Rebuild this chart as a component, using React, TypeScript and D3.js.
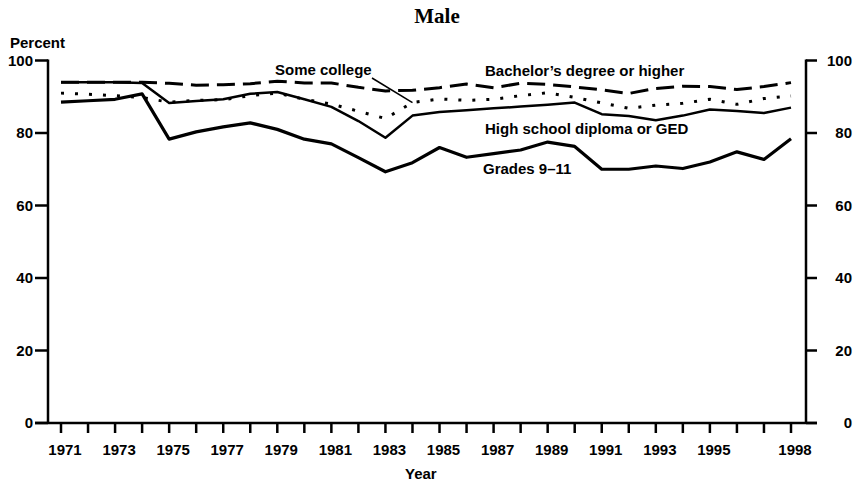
import React, { useRef, useEffect } from 'react';
import * as d3 from 'd3';

const years = d3.range(1971, 1999);
const yTicks = [0, 20, 40, 60, 80, 100];
const xLabelYears = [1971, 1973, 1975, 1977, 1979, 1981, 1983, 1985, 1987, 1989, 1991, 1993, 1995, 1998];

const bachelors = [94, 94, 94, 94, 93.7, 93.2, 93.3, 93.6, 94.3, 93.8, 93.8, 92.6, 91.6, 91.8, 92.5, 93.5, 92.5, 93.7, 93.4, 92.7, 91.9, 90.9, 92.3, 92.9, 92.8, 92, 92.8, 93.9];
const someCollege = [91, 90.7, 90.3, 89.8, 88.5, 89, 89.2, 90.3, 91, 89.3, 88, 86, 84, 88.4, 89.4, 89, 89.3, 90.3, 91.1, 89.8, 88.3, 86.8, 87.7, 88.2, 89.3, 87.9, 89.5, 90.2];
const highSchool = [94, 94, 94, 93.8, 88.3, 88.8, 89.3, 90.8, 91.3, 89.3, 87.2, 83.3, 78.7, 84.8, 85.8, 86.3, 86.8, 87.3, 87.8, 88.4, 85.2, 84.7, 83.5, 84.8, 86.5, 86.1, 85.5, 87];
const grades = [88.5, 88.9, 89.3, 90.8, 78.3, 80.3, 81.7, 82.8, 81, 78.3, 77, 73.2, 69.3, 71.8, 76, 73.3, 74.3, 75.3, 77.5, 76.3, 70, 70, 70.9, 70.2, 72, 74.8, 72.7, 78.4];

const W = 857;
const H = 482;
const FONT = '"Liberation Sans", Arial, Helvetica, sans-serif';

const MaleChart: React.FC = () => {
  const ref = useRef<SVGSVGElement | null>(null);

  useEffect(() => {
    if (!ref.current) return;
    const svg = d3.select(ref.current);
    svg.selectAll('*').remove();

    const x = d3.scaleLinear().domain([1971, 1998]).range([61, 791]);
    const y = d3.scaleLinear().domain([0, 100]).range([423, 60.5]);
    const left = 48;
    const right = 806;

    svg.append('rect').attr('width', W).attr('height', H).attr('fill', '#fff');

    // title
    svg.append('text')
      .attr('x', 437).attr('y', 23)
      .attr('text-anchor', 'middle')
      .attr('font-family', '"Liberation Serif", "Times New Roman", serif')
      .attr('font-weight', 'bold')
      .attr('font-size', 21)
      .text('Male');

    svg.append('text')
      .attr('x', 10).attr('y', 48)
      .attr('font-family', FONT).attr('font-weight', 'bold').attr('font-size', 15)
      .text('Percent');

    // axes frame
    const axisG = svg.append('g').attr('stroke', '#000').attr('stroke-width', 2.5).attr('fill', 'none');
    axisG.append('line').attr('x1', left).attr('x2', left).attr('y1', y(100) - 1).attr('y2', y(0));
    axisG.append('line').attr('x1', right).attr('x2', right).attr('y1', y(100) - 1).attr('y2', y(0));
    axisG.append('line').attr('x1', left - 13).attr('x2', right + 11).attr('y1', y(0)).attr('y2', y(0));

    // y ticks both sides
    yTicks.forEach(v => {
      axisG.append('line').attr('x1', left - 13).attr('x2', left).attr('y1', y(v)).attr('y2', y(v));
      axisG.append('line').attr('x1', right).attr('x2', right + 11).attr('y1', y(v)).attr('y2', y(v));
    });

    const labels = svg.append('g')
      .attr('font-family', FONT).attr('font-weight', 'bold').attr('font-size', 15).attr('fill', '#000');

    yTicks.forEach(v => {
      labels.append('text')
        .attr('x', 33).attr('y', y(v)).attr('dy', '0.36em')
        .attr('text-anchor', 'end').text(v);
      labels.append('text')
        .attr('x', 852).attr('y', y(v)).attr('dy', '0.36em')
        .attr('text-anchor', 'end').text(v);
    });

    // x ticks
    years.forEach(yr => {
      axisG.append('line').attr('x1', x(yr)).attr('x2', x(yr)).attr('y1', y(0)).attr('y2', y(0) + 10);
    });
    xLabelYears.forEach(yr => {
      labels.append('text')
        .attr('x', x(yr) + 4).attr('y', 455)
        .attr('text-anchor', 'middle').text(yr);
    });

    labels.append('text').attr('x', 405).attr('y', 479).text('Year');

    // series
    const line = d3.line<number>()
      .x((_, i) => x(years[i]))
      .y(d => y(d));

    const series = [
      { data: bachelors, width: 3, dash: '18,8' },
      { data: someCollege, width: 3, dash: '3,11' },
      { data: highSchool, width: 2.5, dash: null },
      { data: grades, width: 3.2, dash: null },
    ];

    series.forEach(s => {
      svg.append('path')
        .datum(s.data)
        .attr('d', line)
        .attr('fill', 'none')
        .attr('stroke', '#000')
        .attr('stroke-width', s.width)
        .attr('stroke-linejoin', 'round')
        .attr('stroke-dasharray', s.dash);
    });

    // series labels
    labels.append('text').attr('x', 275).attr('y', 75).text('Some college');
    labels.append('text').attr('x', 485).attr('y', 76).text('Bachelor\u2019s degree or higher');
    labels.append('text').attr('x', 485).attr('y', 134).text('High school diploma or GED');
    labels.append('text').attr('x', 483).attr('y', 174).text('Grades 9\u201311');

    // leader line for Some college
    const i84 = years.indexOf(1984);
    svg.append('line')
      .attr('x1', 372).attr('y1', 78)
      .attr('x2', x(1984)).attr('y2', y(someCollege[i84]))
      .attr('stroke', '#000').attr('stroke-width', 1.5);
  }, []);

  return <svg ref={ref} width={W} height={H} style={{ display: 'block' }} />;
};

export default function App() {
  return (
    <div style={{ position: 'absolute', left: 0, top: 0 }}>
      <MaleChart />
    </div>
  );
}
